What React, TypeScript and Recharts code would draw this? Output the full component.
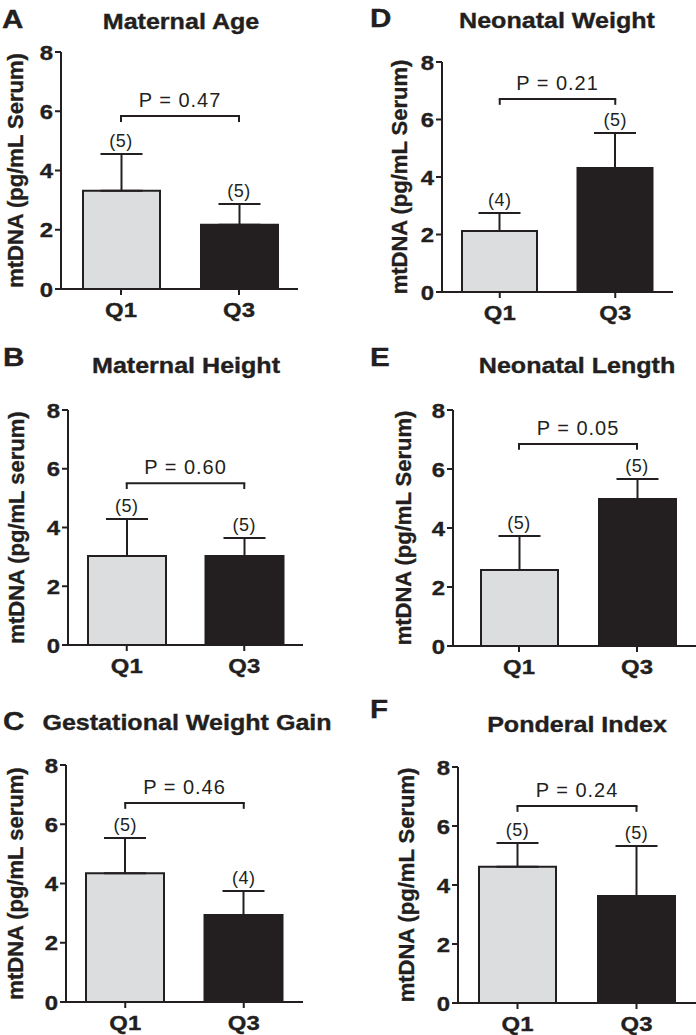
import { Bar, BarChart, Cell, ErrorBar, ReferenceDot, ReferenceLine, XAxis, YAxis } from "recharts";

const categories = ["Q1", "Q3"];
const panelLetters = ["A", "B", "C", "D", "E", "F"];
const panelTitles = [
  "Maternal Age",
  "Maternal Height",
  "Gestational Weight Gain",
  "Neonatal Weight",
  "Neonatal Length",
  "Ponderal Index",
];
const yAxisTitles = [
  "mtDNA (pg/mL Serum)",
  "mtDNA (pg/mL serum)",
  "mtDNA (pg/mL serum)",
  "mtDNA (pg/mL Serum)",
  "mtDNA (pg/mL Serum)",
  "mtDNA (pg/mL Serum)",
];
// mean and SEM per panel, [Q1, Q3]
const meanValues = [
  [3.32, 2.17],
  [3.03, 3.03],
  [4.35, 2.94],
  [2.12, 4.31],
  [2.58, 4.98],
  [4.62, 3.63],
];
const semValues = [
  [1.24, 0.7],
  [1.26, 0.61],
  [1.19, 0.81],
  [0.63, 1.22],
  [1.15, 0.68],
  [0.8, 1.69],
];
const sampleSizes = [
  [5, 5],
  [5, 5],
  [5, 4],
  [4, 5],
  [5, 5],
  [5, 5],
];
const pValues = ["0.47", "0.60", "0.46", "0.21", "0.05", "0.24"];
const bracketLevels = [5.84, 5.51, 6.72, 6.71, 6.85, 6.68];
const yTicks = [0, 2, 4, 6, 8];
const yMax = 8;
const bracketDrop = 0.2;

const INK = "#231f20";
const barFills = ["#dcdddf", INK];
const FONT = "'Liberation Sans', Arial, Helvetica, sans-serif";
const WIDEN = 1.14; // the original lettering is a bit wider than Arial

// where each panel sits on the page
const panelLayout = [
  { axisX: 61, plotTop: 52, plotBottom: 289, plotRight: 298, padLeft: 1, barSize: 77, letterX: 2, letterY: 28, titleX: 181, titleY: 29, yLabelX: 15 },
  { axisX: 68, plotTop: 410, plotBottom: 645, plotRight: 303, padLeft: 0, barSize: 78, letterX: 3, letterY: 366, titleX: 186, titleY: 373, yLabelX: 16 },
  { axisX: 66, plotTop: 765, plotBottom: 1002, plotRight: 303, padLeft: 0, barSize: 78, letterX: 3, letterY: 730, titleX: 187, titleY: 730, yLabelX: 15 },
  { axisX: 442, plotTop: 62, plotBottom: 292, plotRight: 673, padLeft: 0, barSize: 75, letterX: 370, letterY: 27, titleX: 557, titleY: 28, yLabelX: 399 },
  { axisX: 453, plotTop: 410, plotBottom: 646, plotRight: 696, padLeft: 7, barSize: 77, letterX: 370, letterY: 366, titleX: 577, titleY: 373, yLabelX: 403 },
  { axisX: 458, plotTop: 767, plotBottom: 1003, plotRight: 696, padLeft: 0, barSize: 77, letterX: 370, letterY: 718, titleX: 577, titleY: 732, yLabelX: 406 },
];

function WideText({
  x,
  y,
  size,
  anchor = "start",
  bold = true,
  children,
}: {
  x: number;
  y: number;
  size: number;
  anchor?: "start" | "middle" | "end";
  bold?: boolean;
  children: any;
}) {
  return (
    <text
      x={0}
      y={0}
      transform={`translate(${x},${y}) scale(${WIDEN},1)`}
      textAnchor={anchor}
      fill={INK}
      stroke={bold ? INK : "none"}
      strokeWidth={bold ? 0.35 : 0}
      fontFamily={FONT}
      fontWeight={bold ? "bold" : "normal"}
      fontSize={size}
    >
      {children}
    </text>
  );
}

const XTick = (props: any) => (
  <WideText x={props.x} y={props.y + 15} size={21} anchor="middle">
    {props.payload.value}
  </WideText>
);

const YTick = (props: any) => (
  <WideText x={props.x} y={props.y + 7.5} size={21} anchor="end">
    {props.payload.value}
  </WideText>
);

function Panel({ index }: { index: number }) {
  const lay = panelLayout[index];
  const colLeft = index < 3 ? 0 : 348;
  const chartTop = lay.plotTop - 16;
  const chartBottom = lay.plotBottom + 40;
  const width = lay.plotRight + 2 - colLeft;
  const height = chartBottom - chartTop;
  const level = bracketLevels[index];

  const data = categories.map((name, j) => ({
    name,
    mean: meanValues[index][j],
    err: [0, semValues[index][j]],
    top: meanValues[index][j] + semValues[index][j],
    n: sampleSizes[index][j],
  }));

  return (
    <div style={{ position: "absolute", left: colLeft, top: chartTop, width, height }}>
      <BarChart
        width={width}
        height={height}
        data={data}
        margin={{ top: lay.plotTop - chartTop, right: 2, bottom: 0, left: 0 }}
        style={{ fontFamily: FONT }}
      >
        <XAxis
          dataKey="name"
          height={chartBottom - lay.plotBottom}
          padding={{ left: lay.padLeft, right: 0 }}
          axisLine={{ stroke: INK, strokeWidth: 2 }}
          tickLine={{ stroke: INK, strokeWidth: 2 }}
          tickSize={6}
          tickMargin={7}
          tick={XTick}
        />
        <YAxis
          domain={[0, yMax]}
          ticks={yTicks}
          interval={0}
          width={lay.axisX - colLeft}
          axisLine={{ stroke: INK, strokeWidth: 2 }}
          tickLine={{ stroke: INK, strokeWidth: 2 }}
          tickSize={6}
          tickMargin={2}
          tick={YTick}
          label={{
            value: yAxisTitles[index],
            angle: -90,
            position: "insideLeft",
            offset: lay.yLabelX - colLeft,
            style: {
              textAnchor: "middle",
              fill: INK,
              stroke: INK,
              strokeWidth: 0.35,
              fontSize: 22,
              fontWeight: "bold",
              fontFamily: FONT,
            },
          }}
        />
        <Bar dataKey="mean" barSize={lay.barSize} stroke={INK} strokeWidth={2} isAnimationActive={false}>
          {data.map((d, j) => (
            <Cell key={d.name} fill={barFills[j]} />
          ))}
          <ErrorBar dataKey="err" direction="y" width={21} stroke={INK} strokeWidth={2} isAnimationActive={false} />
        </Bar>
        {data.map((d) => (
          <ReferenceDot
            key={"n" + d.name}
            x={d.name}
            y={d.top}
            r={0}
            fill="none"
            stroke="none"
            label={{ value: `(${d.n})`, position: "top", offset: 7, fill: INK, fontSize: 18, letterSpacing: 0.5, fontFamily: FONT }}
          />
        ))}
        <ReferenceLine
          segment={[
            { x: categories[0], y: level },
            { x: categories[1], y: level },
          ]}
          stroke={INK}
          strokeWidth={2}
          strokeLinecap="square"
          label={{
            value: `P = ${pValues[index]}`,
            position: "top",
            offset: 9,
            fill: INK,
            fontSize: 20,
            letterSpacing: 1,
            fontFamily: FONT,
          }}
        />
        {categories.map((c) => (
          <ReferenceLine
            key={"drop" + c}
            segment={[
              { x: c, y: level },
              { x: c, y: level - bracketDrop },
            ]}
            stroke={INK}
            strokeWidth={2}
          />
        ))}
      </BarChart>
    </div>
  );
}

export default function App() {
  return (
    <div
      style={{
        position: "absolute",
        left: 0,
        top: 0,
        width: 696,
        height: 1035,
        background: "#ffffff",
        overflow: "hidden",
        fontFamily: FONT,
      }}
    >
      <svg width={696} height={1035} style={{ position: "absolute", left: 0, top: 0 }}>
        {panelLayout.map((lay, i) => (
          <g key={panelLetters[i]}>
            <WideText x={lay.letterX} y={lay.letterY} size={26}>
              {panelLetters[i]}
            </WideText>
            <WideText x={lay.titleX} y={lay.titleY} size={22} anchor="middle">
              {panelTitles[i]}
            </WideText>
          </g>
        ))}
      </svg>
      {panelLayout.map((_, i) => (
        <Panel key={i} index={i} />
      ))}
    </div>
  );
}
